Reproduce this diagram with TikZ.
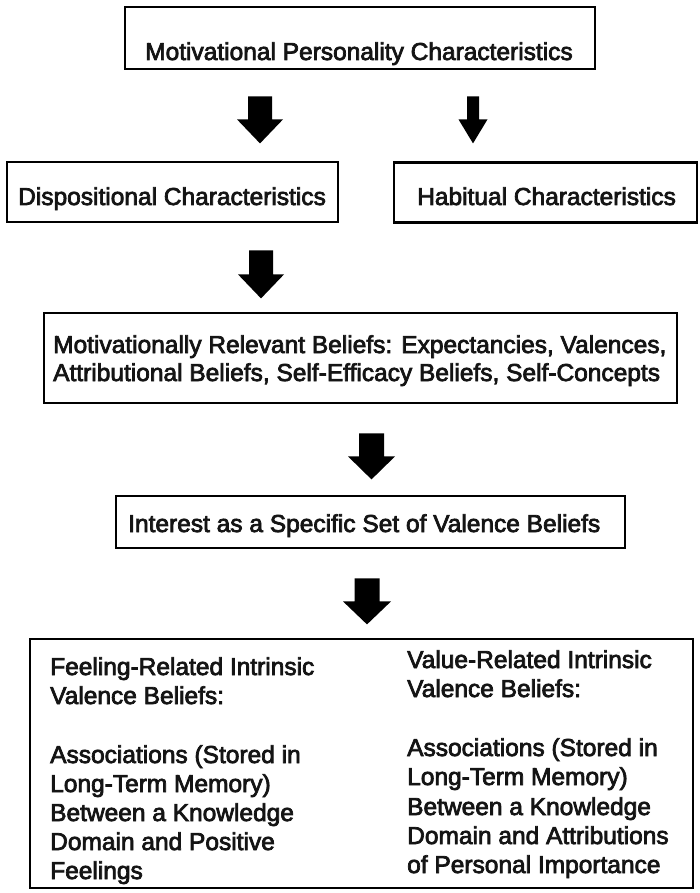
\documentclass[tikz,border=0pt]{standalone}
\usepackage{fontspec}
\setmainfont[FakeBold=3]{Liberation Sans}
% Filled block arrow pointing down: #1 top coordinate, #2 half shaft width,
% #3 half head width, #4 depth where the head starts, #5 total length
\newcommand{\blockdown}[5]{%
  \fill[shift={(#1)}] (-#2,0) -- (#2,0) -- (#2,#4) -- (#3,#4) -- (0,#5)
    -- (-#3,#4) -- (-#2,#4) -- cycle;}
\begin{document}
\begin{tikzpicture}[x=1pt,y=-1pt,
  box/.style={draw, line width=2.8pt, inner sep=0pt},
  txt/.style={anchor=base west, inner sep=0pt, text=black!92, font=\fontsize{24.5}{29}\selectfont},
  ctxt/.style={anchor=base, inner sep=0pt, text=black!92, font=\fontsize{24.5}{29}\selectfont}]
\useasboundingbox (0,0) rectangle (700,893);

% boxes
\node[box, minimum width=470pt, minimum height=62pt] (mpc)  at (360,38) {};
\node[box, minimum width=331pt, minimum height=60pt] (disp) at (172.5,192) {};
\node[box, minimum width=303pt, minimum height=60pt] (hab)  at (545.5,192.5) {};
\node[box, minimum width=633pt, minimum height=90pt] (mrb)  at (360.5,358) {};
\node[box, minimum width=509pt, minimum height=52pt] (int)  at (370.5,522) {};
\node[box, minimum width=663pt, minimum height=249pt] (val) at (361.5,763.5) {};

% box texts
\node[ctxt] (mpcT) at (359,60) {Motivational Personality Characteristics};
\node[txt] (dispT) at (18,205) {Dispositional Characteristics};
\node[txt] (habT) at (417,205) {Habitual Characteristics};
\node[txt] (mrbA) at (53,353) {Motivationally Relevant Beliefs: Expectancies, Valences,};
\node[txt] (mrbB) at (53,381) {Attributional Beliefs, Self-Efficacy Beliefs, Self-Concepts};
\node[txt] (intT) at (128,532) {Interest as a Specific Set of Valence Beliefs};

% feeling-related column
\node[txt] (fA) at (50,675) {Feeling-Related Intrinsic};
\node[txt] (fB) at (50,704) {Valence Beliefs:};
\node[txt] (fC) at (50,763) {Associations (Stored in};
\node[txt] (fD) at (50,792) {Long-Term Memory)};
\node[txt] (fE) at (50,821) {Between a Knowledge};
\node[txt] (fF) at (50,850) {Domain and Positive};
\node[txt] (fG) at (50,879) {Feelings};

% value-related column
\node[txt] (vA) at (407,668) {Value-Related Intrinsic};
\node[txt] (vB) at (407,697) {Valence Beliefs:};
\node[txt] (vC) at (407,756) {Associations (Stored in};
\node[txt] (vD) at (407,785) {Long-Term Memory)};
\node[txt] (vE) at (407,815) {Between a Knowledge};
\node[txt] (vF) at (407,844) {Domain and Attributions};
\node[txt] (vG) at (407,873) {of Personal Importance};

% arrow tops, placed below the box each arrow leaves
\coordinate (a1) at ([yshift=-26pt]mpc.south -| 260,0);
\coordinate (a2) at ([yshift=-26pt]mpc.south -| 473,0);
\coordinate (a3) at ([yshift=-27pt]disp.south -| 261,0);
\coordinate (a4) at ([yshift=-29pt]mrb.south -| 371.5,0);
\coordinate (a5) at ([yshift=-29pt]int.south -| 367,0);

% block arrows
\blockdown{a1}{12}{23}{23}{47}
\blockdown{a2}{6}{14.5}{23}{47}
\blockdown{a3}{12}{23}{24}{48}
\blockdown{a4}{12.5}{23.5}{23}{46}
\blockdown{a5}{12.5}{24}{23}{46}
\end{tikzpicture}
\end{document}
